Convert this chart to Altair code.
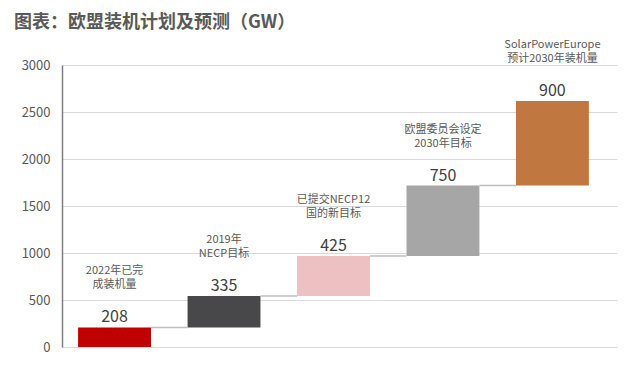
import altair as alt
import pandas as pd

title_text = "图表：欧盟装机计划及预测（GW）"
labels_top = ["2022年已完\n成装机量", "2019年\nNECP目标", "已提交NECP12\n国的新目标",
              "欧盟委员会设定\n2030年目标", "SolarPowerEurope\n预计2030年装机量"]
values = [208, 335, 425, 750, 900]
colors = ["#C00000", "#48484A", "#EDC1C1", "#A6A6A6", "#C07740"]
y_ticks = [0, 500, 1000, 1500, 2000, 2500, 3000]

rows = []
cum = 0
for i, (lab, v, c) in enumerate(zip(labels_top, values, colors)):
    rows.append({"idx": i, "lab": lab, "val": v, "start": cum, "end": cum + v,
                 "color": c, "x0": i - 0.333, "x1": i + 0.333,
                 "nx0": i + 0.333, "nx1": i + 1 - 0.333})
    cum += v
df = pd.DataFrame(rows)

FONT = "Noto Sans CJK SC"
xs = alt.Scale(domain=[-0.48, 4.59], nice=False, zero=False)
ys = alt.Scale(domain=[0, 3000], nice=False)

base = alt.Chart(df)

conn = base.transform_filter("datum.idx < 4").mark_rule(color="#BFBFBF", strokeWidth=1.5).encode(
    x=alt.X("nx0:Q", scale=xs, axis=None),
    x2="nx1:Q",
    y=alt.Y("end:Q", scale=ys),
)

bars = base.mark_rect().encode(
    x=alt.X("x0:Q", scale=xs, axis=None),
    x2="x1:Q",
    y=alt.Y("start:Q", scale=ys,
            axis=alt.Axis(values=y_ticks, title=None, ticks=False, domain=True, format="d",
                          domainColor="#7F7F7F", domainWidth=1.5,
                          gridColor="#D9D9D9", gridWidth=1.2,
                          labelColor="#595959", labelFontSize=13, labelFont=FONT,
                          labelPadding=12)),
    y2="end:Q",
    color=alt.Color("color:N", scale=None),
)

vals = base.mark_text(font=FONT, fontSize=16, color="#404040", baseline="bottom", dy=-2).encode(
    x=alt.X("idx:Q", scale=xs),
    y=alt.Y("end:Q", scale=ys),
    text="val:N",
)

ann = base.mark_text(font=FONT, fontSize=11, color="#595959", baseline="bottom",
                     lineBreak="\n", lineHeight=14, dy=-51).encode(
    x=alt.X("idx:Q", scale=xs),
    y=alt.Y("end:Q", scale=ys),
    text="lab:N",
)

title = alt.Chart(pd.DataFrame({"t": [title_text]})).mark_text(
    font=FONT, fontSize=18, fontWeight="bold", color="#595959",
    align="left", baseline="middle",
).encode(x=alt.value(-48), y=alt.value(-42), text="t:N")

chart = alt.layer(bars, conn, vals, ann, title).properties(
    width=555, height=282,
    autosize="none",
    padding={"left": 54, "top": 57, "right": 12, "bottom": 14},
).configure_view(stroke=None)

chart.save("out.html", embed_options={"renderer": "svg", "actions": False})
